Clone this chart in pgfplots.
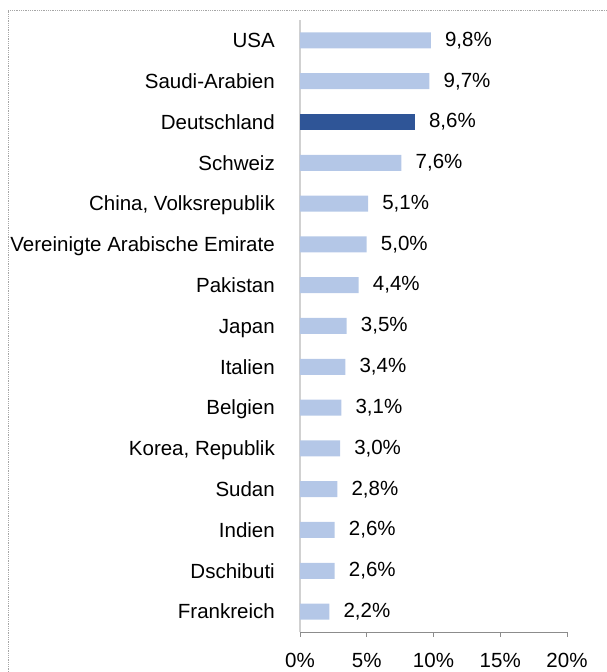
\documentclass[border=0pt]{standalone}
\usepackage{fontspec}
\setmainfont{Liberation Sans}
\usepackage{pgfplots}
\pgfplotsset{compat=1.18}
\definecolor{lightbar}{HTML}{B4C7E7}
\definecolor{darkbar}{HTML}{2F5597}
\begin{document}
\begin{tikzpicture}
\useasboundingbox (0pt,0pt) rectangle (607pt,672pt);
\draw[gray!70, densely dotted, line width=0.8pt] (8pt,0pt) -- (8pt,662pt) -- (607pt,662pt);
\begin{axis}[
  at={(300pt,40pt)}, anchor=south west,
  scale only axis, width=267pt, height=612pt,
  xmin=0, xmax=20, ymin=-0.5, ymax=14.5,
  xtick={0,5,10,15,20},
  xticklabel={\pgfmathprintnumber{\tick}\%},
  /pgf/number format/assume math mode=true,
  ytick={0,...,14},
  yticklabels={Frankreich,Dschibuti,Indien,Sudan,{Korea, Republik},Belgien,Italien,Japan,Pakistan,Vereinigte Arabische Emirate,{China, Volksrepublik},Schweiz,Deutschland,Saudi-Arabien,USA},
  axis x line*=bottom, axis y line*=left,
  x axis line style={draw=black!45, line width=0.8pt, -},
  y axis line style={draw=black!18, line width=1.6pt, -},
  xtick style={draw=black!45, line width=0.8pt},
  major tick length=5pt, tick align=outside,
  ytick style={draw=none},
  ticklabel style={font=\fontsize{20.5}{24}\selectfont},
  yticklabel style={inner sep=0pt, anchor=base east, xshift=-20pt, yshift=-7.3pt},
  xticklabel style={inner sep=0pt, anchor=base, yshift=-30pt},
  xbar, bar width=16pt, bar shift=0pt,
  point meta=x,
  nodes near coords={\pgfmathprintnumber[fixed,fixed zerofill,precision=1,use comma]{\pgfplotspointmeta}\%},
  nodes near coords style={font=\fontsize{20.5}{24}\selectfont, anchor=west, inner sep=0pt, xshift=14pt, text=black},
  clip=false,
]
\addplot[fill=lightbar, draw=none] coordinates {
 (2.2,0) (2.6,1) (2.6,2) (2.8,3) (3.0,4) (3.1,5) (3.4,6) (3.5,7) (4.4,8) (5.0,9) (5.1,10) (7.6,11) (9.7,13) (9.8,14)};
\addplot[fill=darkbar, draw=none] coordinates {(8.6,12)};
\end{axis}
\end{tikzpicture}
\end{document}
